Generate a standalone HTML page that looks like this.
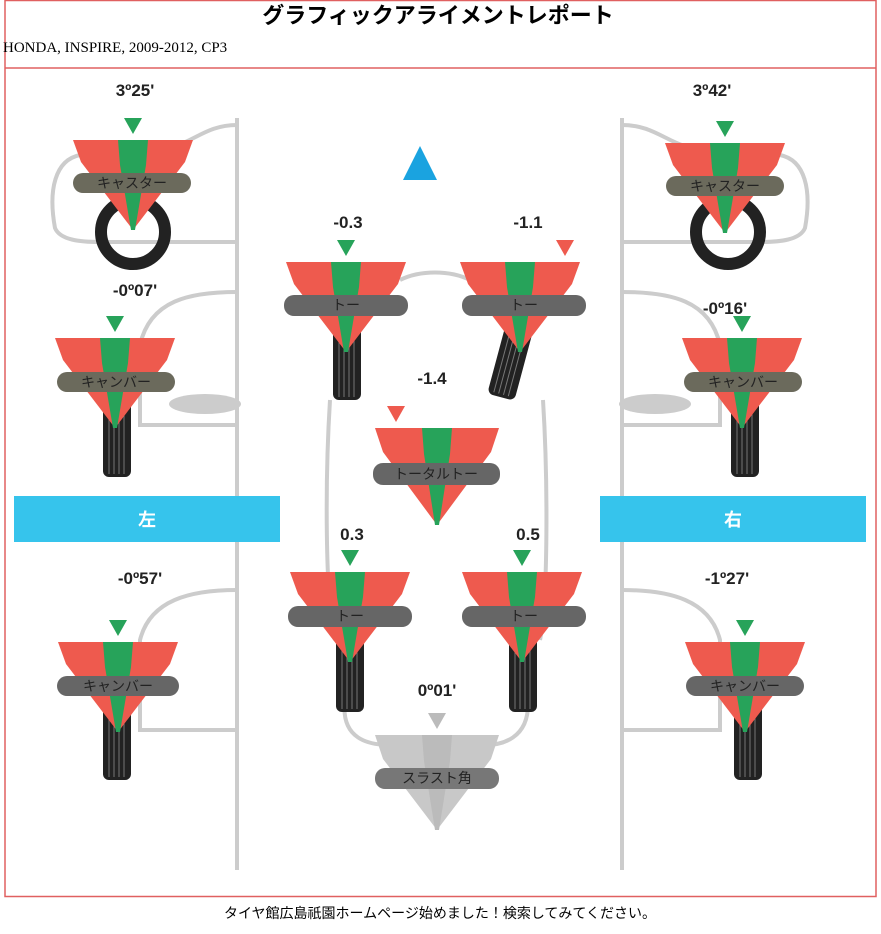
<!DOCTYPE html>
<html><head><meta charset="utf-8"><style>
body{margin:0;background:#fff;width:881px;height:929px;overflow:hidden}
svg text{font-family:"Liberation Sans","Noto Sans CJK JP",sans-serif}
.v{font-size:17px;font-weight:bold;fill:#222;text-anchor:middle}
.p{font-size:14px;fill:#222;text-anchor:middle}
</style></head><body>
<svg width="881" height="929" viewBox="0 0 881 929" xmlns="http://www.w3.org/2000/svg">
<defs>
<g id="g">
 <polygon points="-60,0 60,0 52,22 0,90 -52,22" fill="#ee5a4e"/>
 <polygon points="-15,0 15,0 13,25 2,90 -2,90 -13,25" fill="#27a35a"/>
 <polygon points="-9,-22 9,-22 0,-6" fill="#27a35a"/>
</g>
<g id="gr">
 <polygon points="-60,0 60,0 52,22 0,90 -52,22" fill="#ee5a4e"/>
 <polygon points="-15,0 15,0 13,25 2,90 -2,90 -13,25" fill="#27a35a"/>
 <polygon points="36,-22 54,-22 45,-6" fill="#ee5a4e"/>
</g>
<g id="tire"><rect x="-14" y="0" width="28" height="82" rx="6" fill="#222"/>
 <g stroke="#777" stroke-width="1"><line x1="-8" y1="3" x2="-8" y2="79"/><line x1="-3" y1="3" x2="-3" y2="79"/><line x1="2" y1="3" x2="2" y2="79"/><line x1="7" y1="3" x2="7" y2="79"/></g></g>
</defs>
<rect x="5" y="0.5" width="871" height="896" fill="none" stroke="#e06060" stroke-width="1.5"/>
<line x1="5" y1="68" x2="876" y2="68" stroke="#e06060" stroke-width="1.5"/>
<text x="438" y="23" text-anchor="middle" style="font-size:22px;font-weight:bold">グラフィックアライメントレポート</text>
<text x="3" y="52" style="font-family:'Liberation Serif',serif;font-size:15px">HONDA, INSPIRE, 2009-2012, CP3</text>

<g fill="none" stroke="#ccc" stroke-width="4">
<line x1="237" y1="118" x2="237" y2="870"/><line x1="622" y1="118" x2="622" y2="870"/>
<path d="M237,125 C200,125 190,150 150,150 L80,155 C55,160 48,190 55,228 C60,240 80,242 100,242 L237,242"/>
<path d="M622,125 C660,125 670,150 710,150 L780,155 C805,160 812,190 805,228 C800,240 780,242 760,242 L622,242"/>
<path d="M237,292 C190,292 150,300 140,345 L140,425 L237,425"/>
<path d="M622,292 C670,292 710,300 720,345 L720,425 L622,425"/>
<path d="M237,590 C190,590 150,600 140,640 L140,730 L237,730"/>
<path d="M622,590 C670,590 710,600 720,640 L720,730 L622,730"/>
<path d="M400,280 C420,270 450,270 470,280"/>
<path d="M330,400 C325,480 325,600 335,640"/>
<path d="M543,400 C548,480 548,600 540,640"/>
<path d="M345,700 C340,740 370,745 390,745"/><path d="M528,700 C530,740 500,745 485,745"/>
</g>
<ellipse cx="205" cy="404" rx="36" ry="10" fill="#ccc"/>
<ellipse cx="655" cy="404" rx="36" ry="10" fill="#ccc"/>
<polygon points="420,146 403,180 437,180" fill="#1aa3e0"/>

<rect x="14" y="496" width="266" height="46" fill="#36c4ec"/>
<rect x="600" y="496" width="266" height="46" fill="#36c4ec"/>
<text x="147" y="526" text-anchor="middle" style="font-size:18px;font-weight:bold;fill:#fff">左</text>
<text x="733" y="526" text-anchor="middle" style="font-size:18px;font-weight:bold;fill:#fff">右</text>

<circle cx="133" cy="232" r="32" fill="none" stroke="#222" stroke-width="12"/>
<circle cx="728" cy="232" r="32" fill="none" stroke="#222" stroke-width="12"/>
<use href="#g" x="133" y="140"/><use href="#g" x="725" y="143"/>
<rect x="73" y="173" width="118" height="20" rx="10" fill="#6b6a5c"/><text class="p" x="132" y="188">キャスター</text>
<rect x="666" y="176" width="118" height="20" rx="10" fill="#6b6a5c"/><text class="p" x="725" y="191">キャスター</text>

<use href="#tire" x="117" y="395"/><use href="#tire" x="745" y="395"/>
<use href="#tire" x="117" y="698"/><use href="#tire" x="748" y="698"/>
<use href="#g" x="115" y="338"/><use href="#g" x="742" y="338"/>
<use href="#g" x="118" y="642"/><use href="#g" x="745" y="642"/>
<rect x="57" y="372" width="118" height="20" rx="10" fill="#6b6a5c"/><text class="p" x="116" y="387">キャンバー</text>
<rect x="684" y="372" width="118" height="20" rx="10" fill="#6b6a5c"/><text class="p" x="743" y="387">キャンバー</text>
<rect x="57" y="676" width="122" height="20" rx="10" fill="#666"/><text class="p" x="118" y="691">キャンバー</text>
<rect x="686" y="676" width="118" height="20" rx="10" fill="#666"/><text class="p" x="745" y="691">キャンバー</text>

<use href="#tire" x="347" y="318"/>
<g transform="translate(522,318) rotate(15)"><use href="#tire" x="0" y="0"/></g>
<use href="#tire" x="350" y="630"/><use href="#tire" x="523" y="630"/>
<use href="#g" x="346" y="262"/><use href="#gr" x="520" y="262"/>
<use href="#g" x="350" y="572"/><use href="#g" x="522" y="572"/>
<rect x="284" y="295" width="124" height="21" rx="10" fill="#666"/><text class="p" x="346" y="310">トー</text>
<rect x="462" y="295" width="124" height="21" rx="10" fill="#666"/><text class="p" x="524" y="310">トー</text>
<rect x="288" y="606" width="124" height="21" rx="10" fill="#666"/><text class="p" x="350" y="621">トー</text>
<rect x="462" y="606" width="124" height="21" rx="10" fill="#666"/><text class="p" x="524" y="621">トー</text>
<g transform="translate(437,428)">
 <polygon points="-62,0 62,0 54,24 0,97 -54,24" fill="#ee5a4e"/>
 <polygon points="-15,0 15,0 13,26 2,97 -2,97 -13,26" fill="#27a35a"/>
 <polygon points="-50,-22 -32,-22 -41,-6" fill="#ee5a4e"/>
</g>
<rect x="373" y="463" width="127" height="22" rx="10" fill="#666"/><text class="p" x="436" y="479">トータルトー</text>
<g transform="translate(437,735)">
 <polygon points="-62,0 62,0 54,24 0,95 -54,24" fill="#c8c8c8"/>
 <polygon points="-15,0 15,0 13,26 2,95 -2,95 -13,26" fill="#bbb"/>
 <polygon points="-9,-22 9,-22 0,-6" fill="#bbb"/>
</g>
<rect x="375" y="768" width="124" height="21" rx="10" fill="#777"/><text class="p" x="437" y="783">スラスト角</text>

<text class="v" x="135" y="96">3º25'</text>
<text class="v" x="135" y="296">-0º07'</text>
<text class="v" x="140" y="584">-0º57'</text>
<text class="v" x="712" y="96">3º42'</text>
<text class="v" x="725" y="314">-0º16'</text>
<text class="v" x="727" y="584">-1º27'</text>
<text class="v" x="348" y="228">-0.3</text>
<text class="v" x="528" y="228">-1.1</text>
<text class="v" x="432" y="384">-1.4</text>
<text class="v" x="352" y="540">0.3</text>
<text class="v" x="528" y="540">0.5</text>
<text class="v" x="437" y="696">0º01'</text>

<text x="440" y="918" text-anchor="middle" style="font-size:14px">タイヤ館広島祇園ホームページ始めました！検索してみてください。</text>
</svg>
</body></html>
